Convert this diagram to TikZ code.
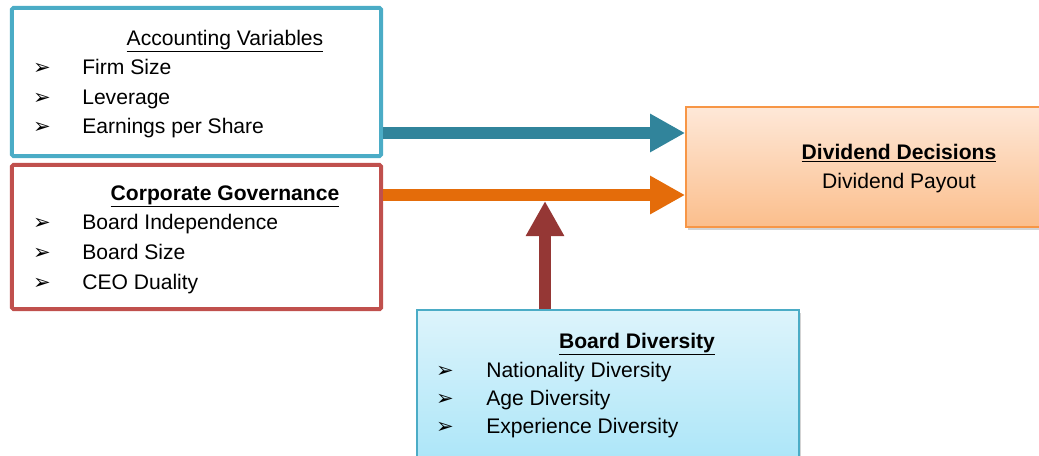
\documentclass[tikz,border=0pt]{standalone}
\usepackage{fontspec}
\setmainfont{Liberation Sans}
\newfontfamily\bulletfont{DejaVu Sans}
\usetikzlibrary{arrows.meta,shadows}
\definecolor{accblue}{HTML}{4BACC6}
\definecolor{govred}{HTML}{C0504D}
\definecolor{divorange}{HTML}{F79646}
\definecolor{divtop}{HTML}{FEE8D8}
\definecolor{divbottom}{HTML}{FBBE8C}
\definecolor{bdvtop}{HTML}{DDF4FB}
\definecolor{bdvbottom}{HTML}{A6E4F8}
\definecolor{tealarrow}{HTML}{31849B}
\definecolor{orangearrow}{HTML}{E46C0A}
\definecolor{redarrow}{HTML}{953735}
\newcommand{\bul}{{\bulletfont\fontsize{15}{16}\selectfont ➢}}
\begin{document}
\begin{tikzpicture}
    [ x=0.025cm, y=-0.025cm
    , every node/.style={font=\fontsize{15}{17}\selectfont, inner sep=0pt}
    , frame/.style={draw, line width=0.1cm, rounded corners=1pt, minimum width=9.225cm}
    , block/.style={draw, line width=0.04cm, drop shadow={opacity=0.35, shadow xshift=0.06cm, shadow yshift=-0.08cm}}
    , entry/.style={anchor=base west}
    , bulletmark/.style={anchor=base}
    , heading/.style={anchor=base}
    , fat/.style={line width=0.3cm, -{Triangle[length=0.875cm, width=0.9cm]}}
    ]
    \useasboundingbox (0,0) rectangle (1039,455);
    \clip (0,0) rectangle (1039,455);
    % boxes
    \node [frame, draw=accblue, minimum height=3.7cm] (acc) at (196.5,82) {};
    \node [frame, draw=govred, minimum height=3.6cm] (gov) at (196.5,237) {};
    \node [block, draw=divorange, top color=divtop, bottom color=divbottom,
           minimum width=10.5cm, minimum height=3cm] (div) at (896,167) {};
    \node [block, draw=accblue, top color=bdvtop, bottom color=bdvbottom,
           minimum width=9.55cm, minimum height=4.25cm] (bdv) at (608,395) {};
    % accounting variables
    \node [heading] (acch) at (225,45) {\underline{Accounting Variables}};
    \node [bulletmark] (accm1) at (42,74)  {\bul};
    \node [bulletmark] (accm2) at (42,104) {\bul};
    \node [bulletmark] (accm3) at (42,133) {\bul};
    \node [entry] (acc1) at (82,74)  {Firm Size};
    \node [entry] (acc2) at (82,104) {Leverage};
    \node [entry] (acc3) at (82,133) {Earnings per Share};
    % corporate governance
    \node [heading] (govh) at (225,200) {\textbf{\underline{Corporate Governance}}};
    \node [bulletmark] (govm1) at (42,229) {\bul};
    \node [bulletmark] (govm2) at (42,259) {\bul};
    \node [bulletmark] (govm3) at (42,289) {\bul};
    \node [entry] (gov1) at (82,229) {Board Independence};
    \node [entry] (gov2) at (82,259) {Board Size};
    \node [entry] (gov3) at (82,289) {CEO Duality};
    % dividend decisions
    \node [heading] (divh) at (899,159) {\textbf{\underline{Dividend Decisions}}};
    \node [heading] (div1) at (899,188) {Dividend Payout};
    % board diversity
    \node [heading] (bdvh) at (637,348) {\textbf{\underline{Board Diversity}}};
    \node [bulletmark] (bdvm1) at (445,377) {\bul};
    \node [bulletmark] (bdvm2) at (445,405) {\bul};
    \node [bulletmark] (bdvm3) at (445,433) {\bul};
    \node [entry] (bdv1) at (486,377) {Nationality Diversity};
    \node [entry] (bdv2) at (486,405) {Age Diversity};
    \node [entry] (bdv3) at (486,433) {Experience Diversity};
    % arrows
    \coordinate (tealtip) at ([yshift=0.85cm]div.west);
    \coordinate (orangetip) at ([yshift=-0.7cm]div.west);
    \coordinate (redtip) at (545,201);
    \draw [fat, tealarrow] (acc.east |- tealtip) -- (tealtip);
    \draw [fat, orangearrow] (gov.east |- orangetip) -- (orangetip);
    \draw [fat, redarrow] (bdv.north -| redtip) -- (redtip);
\end{tikzpicture}
\end{document}
